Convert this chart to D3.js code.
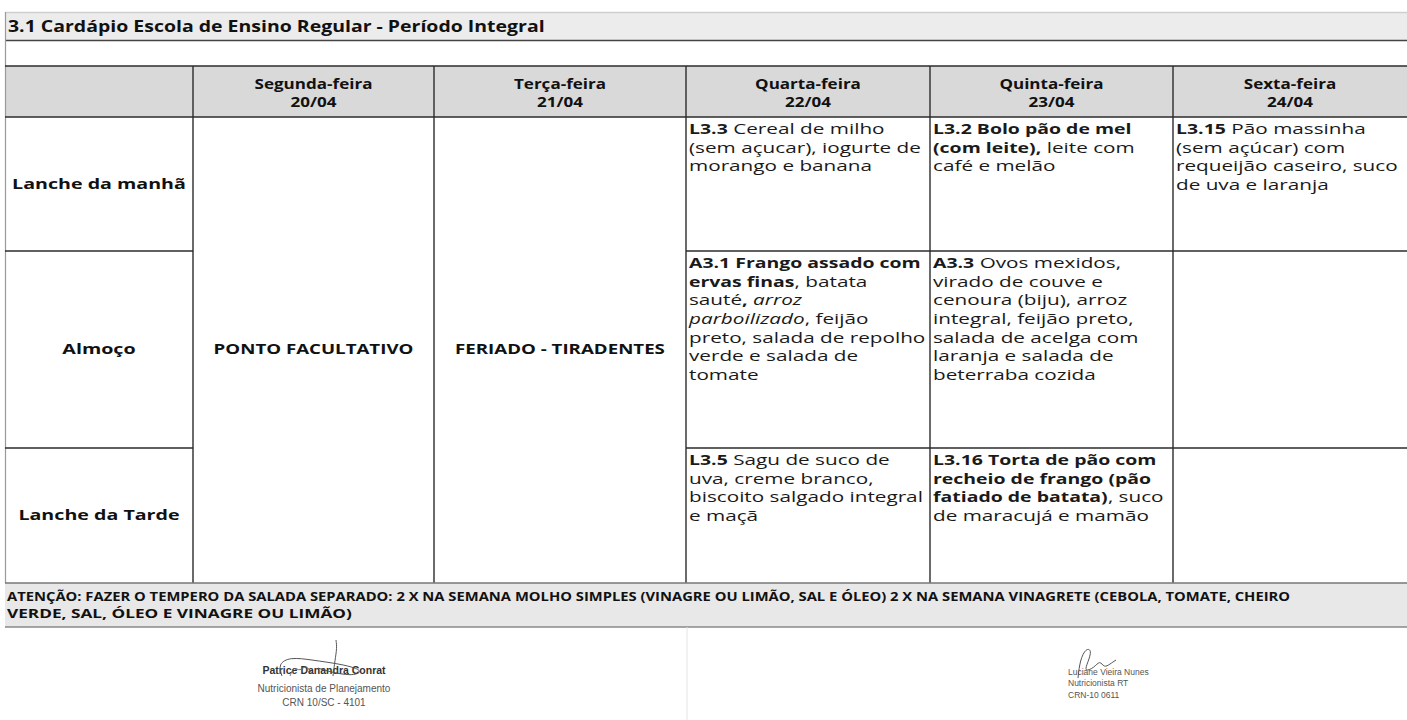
<!DOCTYPE html>
<html>
<head>
<meta charset="utf-8">
<script src="https://cdn.jsdelivr.net/npm/d3@7"></script>
<style>
  html, body { margin: 0; padding: 0; background: #fff; }
  svg { display: block; }
</style>
</head>
<body>
<svg id="chart" width="1407" height="720"></svg>
<script>
// ---------------- DATA ----------------
const title = "3.1 Cardápio Escola de Ensino Regular - Período Integral";
const days = ["Segunda-feira", "Terça-feira", "Quarta-feira", "Quinta-feira", "Sexta-feira"];
const dates = ["20/04", "21/04", "22/04", "23/04", "24/04"];
const meals = ["Lanche da manhã", "Almoço", "Lanche da Tarde"];
const closedDays = ["Segunda-feira", "Terça-feira"];
const closedLabels = ["PONTO FACULTATIVO", "FERIADO - TIRADENTES"];
// menu text: "|" = line break, **bold**, _italic_
const lancheManha = [
  "",
  "",
  "**L3.3** Cereal de milho|(sem açucar), iogurte de|morango e banana",
  "**L3.2 Bolo pão de mel**|**(com leite),** leite com|café e melão",
  "**L3.15** Pão massinha|(sem açúcar) com|requeijão caseiro, suco|de uva e laranja"
];
const almoco = [
  "",
  "",
  "**A3.1 Frango assado com**|**ervas finas**, batata|sauté**,** _arroz_|_parboilizado_, feijão|preto, salada de repolho|verde e salada de|tomate",
  "**A3.3** Ovos mexidos,|virado de couve e|cenoura (biju), arroz|integral, feijão preto,|salada de acelga com|laranja e salada de|beterraba cozida",
  ""
];
const lancheTarde = [
  "",
  "",
  "**L3.5** Sagu de suco de|uva, creme branco,|biscoito salgado integral|e maçã",
  "**L3.16 Torta de pão com**|**recheio de frango (pão**|**fatiado de batata)**, suco|de maracujá e mamão",
  ""
];
const attentionLines = [
  "ATENÇÃO: FAZER O TEMPERO DA SALADA SEPARADO: 2 X NA SEMANA MOLHO SIMPLES (VINAGRE OU LIMÃO, SAL E ÓLEO) 2 X NA SEMANA VINAGRETE (CEBOLA, TOMATE, CHEIRO",
  "VERDE, SAL, ÓLEO E VINAGRE OU LIMÃO)"
];
const signLeft = ["Patrice Danandra Conrat", "Nutricionista de Planejamento", "CRN 10/SC - 4101"];
const signRight = ["Luciane Vieira Nunes", "Nutricionista RT", "CRN-10 0611"];

// ---------------- LAYOUT ----------------
const W = 1407, H = 720;
const FONT = "'Open Sans', 'DejaVu Sans', sans-serif";
const colEdges = [5, 193, 434, 686, 930, 1173, 1407];
const headTop = 66, headBottom = 117;
const rowEdges = [117, 251, 448, 583];
const attBottom = 627;
const BORDER = "#2b2b2b";

const svg = d3.select("#chart");

// horizontal stretch helpers
function measure(sample, font, size, weight, style) {
  const t = svg.append("text").attr("font-family", font).attr("font-size", size)
    .attr("font-weight", weight).attr("font-style", style || "normal")
    .style("white-space", "pre").text(sample);
  const w = t.node().getComputedTextLength();
  t.remove();
  return w;
}
function stretchFactor(sample, font, size, weight, target) {
  return target / measure(sample, font, size, weight);
}
function stretch(sel, k, ax) {
  sel.attr("transform", function (d, i) {
    const x0 = typeof ax === "function" ? ax(d, i) : ax;
    return `translate(${x0},0) scale(${k},1) translate(${-x0},0)`;
  });
}

// scales
const xLeft = d3.scaleOrdinal().domain(["label", ...days]).range(colEdges.slice(0, 6));
const xRight = d3.scaleOrdinal().domain(["label", ...days]).range(colEdges.slice(1));
const yTop = d3.scaleOrdinal().domain(meals).range(rowEdges.slice(0, 3));
const yBot = d3.scaleOrdinal().domain(meals).range(rowEdges.slice(1));
const xMid = d => (xLeft(d) + xRight(d)) / 2;
const yMid = m => (yTop(m) + yBot(m)) / 2;

// backgrounds
svg.append("rect").attr("x", 0).attr("y", 0).attr("width", W).attr("height", H).attr("fill", "#fff");
svg.append("rect").attr("x", 5).attr("y", 12).attr("width", W - 5).attr("height", 28).attr("fill", "#ececec");
svg.append("line").attr("x1", 5).attr("x2", W).attr("y1", 12.5).attr("y2", 12.5).attr("stroke", "#cfcfcf").attr("stroke-width", 1.5);
svg.append("line").attr("x1", 5).attr("x2", W).attr("y1", 40.5).attr("y2", 40.5).attr("stroke", "#444").attr("stroke-width", 1.5);
svg.append("rect").attr("x", colEdges[0]).attr("y", headTop).attr("width", W - colEdges[0]).attr("height", headBottom - headTop).attr("fill", "#d9d9d9");
svg.append("rect").attr("x", colEdges[0]).attr("y", rowEdges[3]).attr("width", W - colEdges[0]).attr("height", attBottom - rowEdges[3]).attr("fill", "#e8e8e8");

// title
const titleSel = svg.append("text").attr("x", 8).attr("y", 32)
  .attr("font-family", FONT).attr("font-weight", 700).attr("font-size", 16)
  .attr("fill", "#111").text(title);
stretch(titleSel, stretchFactor(title, FONT, 16, 700, 537), 8);

// left faint edge
svg.append("line").attr("x1", 5.5).attr("x2", 5.5).attr("y1", 12).attr("y2", rowEdges[3])
  .attr("stroke", "#9a9a9a").attr("stroke-width", 1.2);

// header borders
svg.append("line").attr("x1", 5).attr("x2", W).attr("y1", headTop).attr("y2", headTop).attr("stroke", BORDER).attr("stroke-width", 1.6);
svg.append("line").attr("x1", 5).attr("x2", W).attr("y1", headBottom).attr("y2", headBottom).attr("stroke", BORDER).attr("stroke-width", 1.6);

// vertical column lines
svg.selectAll("line.col").data(colEdges.slice(1, 6)).join("line").attr("class", "col")
  .attr("x1", d => d).attr("x2", d => d).attr("y1", headTop).attr("y2", rowEdges[3])
  .attr("stroke", BORDER).attr("stroke-width", 1.4);

// horizontal row lines (skip merged columns)
const openDays = days.filter(d => !closedDays.includes(d));
meals.slice(1).forEach(m => {
  const y = yTop(m);
  svg.append("line").attr("x1", xLeft("label")).attr("x2", xRight("label")).attr("y1", y).attr("y2", y)
    .attr("stroke", BORDER).attr("stroke-width", 1.6);
  svg.append("line").attr("x1", xLeft(openDays[0])).attr("x2", W).attr("y1", y).attr("y2", y)
    .attr("stroke", BORDER).attr("stroke-width", 1.6);
});
svg.append("line").attr("x1", 5).attr("x2", W).attr("y1", rowEdges[3]).attr("y2", rowEdges[3]).attr("stroke", "#777").attr("stroke-width", 1.6);
svg.append("line").attr("x1", 5).attr("x2", W).attr("y1", attBottom).attr("y2", attBottom).attr("stroke", "#888").attr("stroke-width", 1.4);

// header text
const kHead = stretchFactor("Segunda-feira", FONT, 15, 700, 118);
const hdr = svg.selectAll("g.hdr").data(days).join("g").attr("class", "hdr");
stretch(hdr.append("text").attr("x", d => xMid(d)).attr("y", 89).attr("text-anchor", "middle")
  .attr("font-family", FONT).attr("font-weight", 700).attr("font-size", 15).attr("fill", "#111").text(d => d), kHead, d => xMid(d));
stretch(hdr.append("text").attr("x", d => xMid(d)).attr("y", 107).attr("text-anchor", "middle")
  .attr("font-family", FONT).attr("font-weight", 700).attr("font-size", 15).attr("fill", "#111")
  .text((d, i) => dates[i]), kHead, d => xMid(d));

// row labels
const kMeal = stretchFactor("Lanche da manhã", FONT, 15, 700, 174);
stretch(svg.selectAll("text.meal").data(meals).join("text").attr("class", "meal")
  .attr("x", xMid("label")).attr("y", m => yMid(m) + 5).attr("text-anchor", "middle")
  .attr("font-family", FONT).attr("font-weight", 700).attr("font-size", 15).attr("fill", "#111").text(m => m),
  kMeal, xMid("label"));

// closed days (merged cells)
const kClosed = stretchFactor(closedLabels[0], FONT, 14.5, 700, 200);
stretch(svg.selectAll("text.closed").data(closedDays).join("text").attr("class", "closed")
  .attr("x", d => xMid(d)).attr("y", yMid("Almoço") + 5).attr("text-anchor", "middle")
  .attr("font-family", FONT).attr("font-weight", 700).attr("font-size", 14.5).attr("fill", "#111")
  .text((d, i) => closedLabels[i]), kClosed, d => xMid(d));

// rich text cells: each segment its own text element, stretched by weight-specific factor
function parseLine(line) {
  return line.split(/(\*\*[^*]+\*\*|_[^_]+_)/).filter(s => s.length).map(s => {
    if (s.startsWith("**")) return { t: s.slice(2, -2), b: true, i: false };
    if (s.startsWith("_")) return { t: s.slice(1, -1), b: false, i: true };
    return { t: s, b: false, i: false };
  });
}
const menus = [lancheManha, almoco, lancheTarde];
const cells = [];
meals.forEach((m, mi) => days.forEach((d, di) => {
  const txt = menus[mi][di];
  if (txt) cells.push({ meal: m, day: d, lines: txt.split("|") });
}));
const LH = 18.7, CELLFS = 15;
const kReg = stretchFactor("(sem açucar), iogurte de", FONT, CELLFS, 400, 232);
const kBold = stretchFactor("A3.1 Frango assado com", FONT, CELLFS, 700, 232);
cells.forEach(c => {
  const x0 = xLeft(c.day) + 3;
  const g = svg.append("g").attr("class", "cell");
  c.lines.forEach((ln, li) => {
    const y = yTop(c.meal) + 17 + li * LH;
    let cursor = x0;
    parseLine(ln).forEach(seg => {
      const k = seg.b ? kBold : kReg;
      const t = g.append("text").attr("x", cursor).attr("y", y)
        .attr("font-family", FONT).attr("font-size", CELLFS).attr("fill", "#1a1a1a")
        .attr("font-weight", seg.b ? 700 : 400)
        .attr("font-style", seg.i ? "italic" : "normal")
        .style("white-space", "pre").text(seg.t);
      const w = t.node().getComputedTextLength();
      stretch(t, k, cursor);
      cursor += w * k;
    });
  });
});

// attention text
svg.selectAll("text.att").data(attentionLines).join("text").attr("class", "att")
  .attr("x", 7).attr("y", (d, i) => 601 + i * 17)
  .attr("font-family", FONT).attr("font-weight", 700).attr("font-size", 12.5).attr("fill", "#111")
  .text(d => d)
  .each(function (d, i) {
    const w = this.getComputedTextLength();
    const k = [1284, 345][i] / w;
    stretch(d3.select(this), k, 7);
  });

// signature area
svg.append("line").attr("x1", 687).attr("x2", 687).attr("y1", attBottom).attr("y2", H).attr("stroke", "#e4e4e4").attr("stroke-width", 1);
const SFONT = "'Liberation Sans', Arial, sans-serif";
svg.selectAll("text.sl").data(signLeft).join("text").attr("class", "sl")
  .attr("x", 324).attr("y", (d, i) => [674, 692, 706][i]).attr("text-anchor", "middle")
  .attr("font-family", SFONT).attr("font-size", (d, i) => i === 0 ? 10.5 : 10)
  .attr("font-weight", (d, i) => i === 0 ? 700 : 400).attr("fill", (d, i) => i === 0 ? "#333" : "#555").text(d => d);
svg.selectAll("text.sr").data(signRight).join("text").attr("class", "sr")
  .attr("x", 1068).attr("y", (d, i) => [675, 686, 698][i])
  .attr("font-family", SFONT).attr("font-size", 8.5).attr("fill", "#555").text(d => d);

// handwritten flourishes (decorative)
const curve = d3.line().curve(d3.curveBasis);
svg.append("path").attr("d", curve([[282,676],[278,664],[290,657],[312,660],[340,664],[356,668],[362,672],[352,676],[330,672],[318,668]]))
  .attr("fill", "none").attr("stroke", "#555").attr("stroke-width", 1);
svg.append("path").attr("d", curve([[333,676],[335,660],[337,648],[336,640]]))
  .attr("fill", "none").attr("stroke", "#555").attr("stroke-width", 1);
svg.append("path").attr("d", curve([[290,676],[294,666],[300,672],[306,664],[312,674]]))
  .attr("fill", "none").attr("stroke", "#666").attr("stroke-width", 0.9);
svg.append("path").attr("d", curve([[1078,678],[1080,660],[1086,648],[1092,650],[1088,662],[1084,672],[1094,668],[1100,660],[1104,668],[1110,664],[1116,660]]))
  .attr("fill", "none").attr("stroke", "#555").attr("stroke-width", 1);
</script>
</body>
</html>
